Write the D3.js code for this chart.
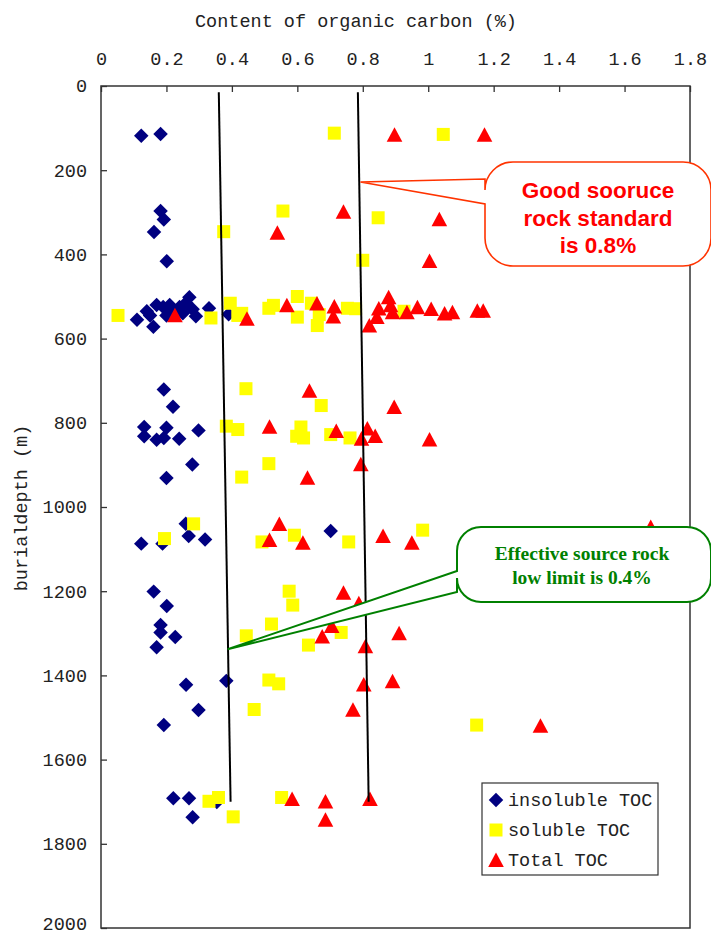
<!DOCTYPE html>
<html>
<head>
<meta charset="utf-8">
<script src="https://cdn.jsdelivr.net/npm/d3@7"></script>
<style>
  body { margin: 0; background: #fff; }
  svg text { font-family: "Liberation Mono", monospace; }
</style>
</head>
<body>
<div id="container"></div>
<script>
/* DATA: [content of organic carbon (%), burial depth (m)] */
const insolubleTOC = [
  [0.123, 118], [0.182, 114],
  [0.182, 297], [0.192, 317], [0.162, 347], [0.201, 416],
  [0.11, 555], [0.14, 535], [0.16, 572], [0.15, 545], [0.17, 520], [0.19, 525],
  [0.2, 545], [0.21, 520], [0.22, 535], [0.24, 525], [0.25, 540], [0.26, 515],
  [0.27, 502], [0.28, 530], [0.29, 547], [0.33, 528], [0.39, 542],
  [0.192, 721], [0.22, 762], [0.132, 810], [0.132, 832], [0.2, 812], [0.17, 840],
  [0.192, 836], [0.239, 838], [0.298, 818], [0.279, 899], [0.2, 931],
  [0.123, 1087], [0.188, 1087], [0.259, 1040], [0.268, 1069], [0.318, 1077], [0.702, 1057],
  [0.161, 1201], [0.201, 1235], [0.182, 1280], [0.182, 1298], [0.227, 1309], [0.17, 1333],
  [0.26, 1422], [0.383, 1413], [0.298, 1482], [0.192, 1518],
  [0.221, 1692], [0.269, 1692], [0.354, 1701], [0.28, 1737]
];
const solubleTOC = [
  [0.713, 112], [1.046, 115],
  [0.556, 297], [0.847, 313], [0.375, 346], [0.8, 414],
  [0.052, 545], [0.336, 551], [0.395, 516], [0.418, 545], [0.513, 528], [0.527, 521],
  [0.6, 500], [0.6, 549], [0.643, 516], [0.661, 569], [0.667, 543], [0.753, 528],
  [0.778, 529], [0.926, 535], [0.43, 540],
  [0.443, 719], [0.673, 759], [0.383, 808], [0.418, 816], [0.611, 810], [0.598, 832],
  [0.619, 836], [0.702, 828], [0.761, 836], [0.513, 897], [0.43, 929],
  [0.283, 1040], [0.194, 1075], [0.492, 1083], [0.591, 1067], [0.757, 1083], [0.983, 1055],
  [0.575, 1200], [0.586, 1233], [0.521, 1278], [0.444, 1306], [0.734, 1298], [0.634, 1328],
  [0.513, 1411], [0.543, 1420], [0.468, 1481], [1.148, 1518],
  [0.33, 1699], [0.359, 1690], [0.552, 1690], [0.404, 1736]
];
const totalTOC = [
  [0.897, 118], [1.172, 118],
  [0.741, 301], [1.034, 319], [0.539, 351], [1.004, 418],
  [0.226, 547], [0.446, 555], [0.568, 523], [0.66, 519], [0.713, 526], [0.71, 550],
  [0.82, 571], [0.849, 531], [0.843, 551], [0.879, 504], [0.885, 523], [0.891, 540],
  [0.935, 540], [0.967, 528], [1.009, 532], [1.05, 543], [1.074, 540], [1.15, 536], [1.168, 536],
  [0.637, 726], [0.896, 765], [0.515, 812], [0.719, 822], [0.814, 816], [0.796, 840],
  [0.838, 834], [1.004, 842], [0.794, 901], [0.631, 933],
  [0.545, 1043], [0.515, 1081], [0.617, 1087], [0.862, 1071], [0.95, 1087], [1.68, 1050],
  [0.741, 1206], [0.788, 1231], [0.705, 1285], [0.676, 1310], [0.911, 1302], [0.808, 1333],
  [0.803, 1424], [0.891, 1416], [0.77, 1484], [1.343, 1522],
  [0.584, 1696], [0.686, 1702], [0.822, 1696], [0.686, 1745]
];
// trend lines: [x, depth] end points
const lowLimitLine = [[0.36, 15], [0.396, 1700]];
const goodLine = [[0.785, 15], [0.818, 1700]];

const xTicks = [0, 0.2, 0.4, 0.6, 0.8, 1, 1.2, 1.4, 1.6, 1.8];
const yTicks = [0, 200, 400, 600, 800, 1000, 1200, 1400, 1600, 1800, 2000];

/* SVG */
const W = 711, H = 936;
const plot = {left: 101, right: 690, top: 86, bottom: 928};

const svg = d3.select("#container").append("svg")
  .attr("width", W).attr("height", H);

const x = d3.scaleLinear().domain([0, 1.8]).range([plot.left, plot.right]);
const y = d3.scaleLinear().domain([0, 2000]).range([plot.top, plot.bottom]);

/* AXES */
const xAxis = svg.append("g")
  .attr("transform", `translate(0,${plot.top})`)
  .call(d3.axisTop(x).tickValues(xTicks).tickSize(-6).tickPadding(21).tickFormat(d3.format("")));
const yAxis = svg.append("g")
  .attr("transform", `translate(${plot.left},0)`)
  .call(d3.axisLeft(y).tickValues(yTicks).tickSize(-6).tickPadding(14).tickFormat(d3.format("d")));
[xAxis, yAxis].forEach(g => {
  g.select(".domain").remove();
  g.selectAll(".tick line").attr("stroke", "#333").attr("stroke-width", 1.3);
  g.selectAll("text").attr("fill", "#222").style("font-size", "18.5px")
    .style("font-family", "'Liberation Mono', monospace");
});
// keep the last depth label inside the page
yAxis.selectAll(".tick text").filter(d => d === 2000).attr("dy", "0.1em");

// frame
svg.append("rect")
  .attr("x", plot.left).attr("y", plot.top)
  .attr("width", plot.right - plot.left).attr("height", plot.bottom - plot.top)
  .attr("fill", "none").attr("stroke", "#333").attr("stroke-width", 1.5);

// titles
svg.append("text")
  .attr("x", 356).attr("y", 27)
  .attr("text-anchor", "middle")
  .style("font-size", "18.5px").attr("fill", "#222")
  .text("Content of organic carbon (%)");
svg.append("text")
  .attr("transform", "translate(27,508) rotate(-90)")
  .attr("text-anchor", "middle")
  .style("font-size", "18.5px").attr("fill", "#222")
  .text("burialdepth (m)");

/* POINTS */
const diamond = d3.symbol().type(d3.symbolSquare).size(105)();
svg.append("g").selectAll("path")
  .data(insolubleTOC).join("path")
  .attr("d", diamond)
  .attr("transform", d => `translate(${x(d[0])},${y(d[1])}) rotate(45)`)
  .attr("fill", "#000080");

svg.append("g").selectAll("rect")
  .data(solubleTOC).join("rect")
  .attr("x", d => x(d[0]) - 6.5).attr("y", d => y(d[1]) - 6.5)
  .attr("width", 13).attr("height", 13)
  .attr("fill", "#ffff00");

const tri = "M0,-8.5L7.8,6L-7.8,6Z";
svg.append("g").selectAll("path")
  .data(totalTOC).join("path")
  .attr("d", tri)
  .attr("transform", d => `translate(${x(d[0])},${y(d[1])})`)
  .attr("fill", "#ff0000");

/* TREND LINES */
const line = d3.line().x(d => x(d[0])).y(d => y(d[1]));
[lowLimitLine, goodLine].forEach(l => {
  svg.append("path").attr("d", line(l))
    .attr("fill", "none").attr("stroke", "#000").attr("stroke-width", 2);
});

/* CALLOUTS */
function callout(x0, y0, x1, y1, r, ay0, ay1, tx, ty) {
  return `M${x0 + r},${y0} L${x1 - r},${y0} A${r},${r} 0 0 1 ${x1},${y0 + r}` +
    ` L${x1},${y1 - r} A${r},${r} 0 0 1 ${x1 - r},${y1} L${x0 + r},${y1}` +
    ` A${r},${r} 0 0 1 ${x0},${y1 - r} L${x0},${ay1} L${tx},${ty} L${x0},${ay0}` +
    ` L${x0},${y0 + r} A${r},${r} 0 0 1 ${x0 + r},${y0} Z`;
}

svg.append("path")
  .attr("d", callout(485, 162, 711, 266, 28, 179, 204, x(0.793), y(228)))
  .attr("fill", "#fff").attr("stroke", "#ff3300").attr("stroke-width", 1.6);
svg.append("text")
  .attr("text-anchor", "middle")
  .style("font-family", "'Liberation Sans', Arial, sans-serif")
  .style("font-size", "22.5px").style("font-weight", "bold")
  .attr("fill", "#ff0000")
  .selectAll("tspan")
  .data(["Good sooruce", "rock standard", "is 0.8%"]).join("tspan")
  .attr("x", 598).attr("y", (d, i) => 198 + i * 27.5)
  .text(d => d);

svg.append("path")
  .attr("d", callout(457, 527, 711, 602, 24, 571, 592, x(0.387), y(1338)))
  .attr("fill", "#fff").attr("stroke", "#008000").attr("stroke-width", 2);
svg.append("text")
  .attr("text-anchor", "middle")
  .style("font-family", "'Liberation Serif', 'Times New Roman', serif")
  .style("font-size", "19.5px").style("font-weight", "bold")
  .attr("fill", "#008000")
  .selectAll("tspan")
  .data(["Effective source rock", "low limit is 0.4%"]).join("tspan")
  .attr("x", 582).attr("y", (d, i) => 560 + i * 24)
  .text(d => d);

/* LEGEND */
const legend = svg.append("g").attr("transform", "translate(482,783)");
legend.append("rect")
  .attr("width", 176).attr("height", 92)
  .attr("fill", "#fff").attr("stroke", "#333").attr("stroke-width", 1.2);
const items = ["insoluble TOC", "soluble TOC", "Total TOC"];
items.forEach((name, i) => {
  const cy = 17 + i * 30;
  if (i === 0) legend.append("path").attr("d", diamond)
    .attr("transform", `translate(14,${cy}) rotate(45)`).attr("fill", "#000080");
  if (i === 1) legend.append("rect").attr("x", 7.5).attr("y", cy - 6.5)
    .attr("width", 13).attr("height", 13).attr("fill", "#ffff00");
  if (i === 2) legend.append("path").attr("d", tri)
    .attr("transform", `translate(14,${cy + 1})`).attr("fill", "#ff0000");
  legend.append("text")
    .attr("x", 26).attr("y", cy + 6)
    .style("font-size", "18.5px").attr("fill", "#222")
    .text(name);
});
</script>
</body>
</html>
